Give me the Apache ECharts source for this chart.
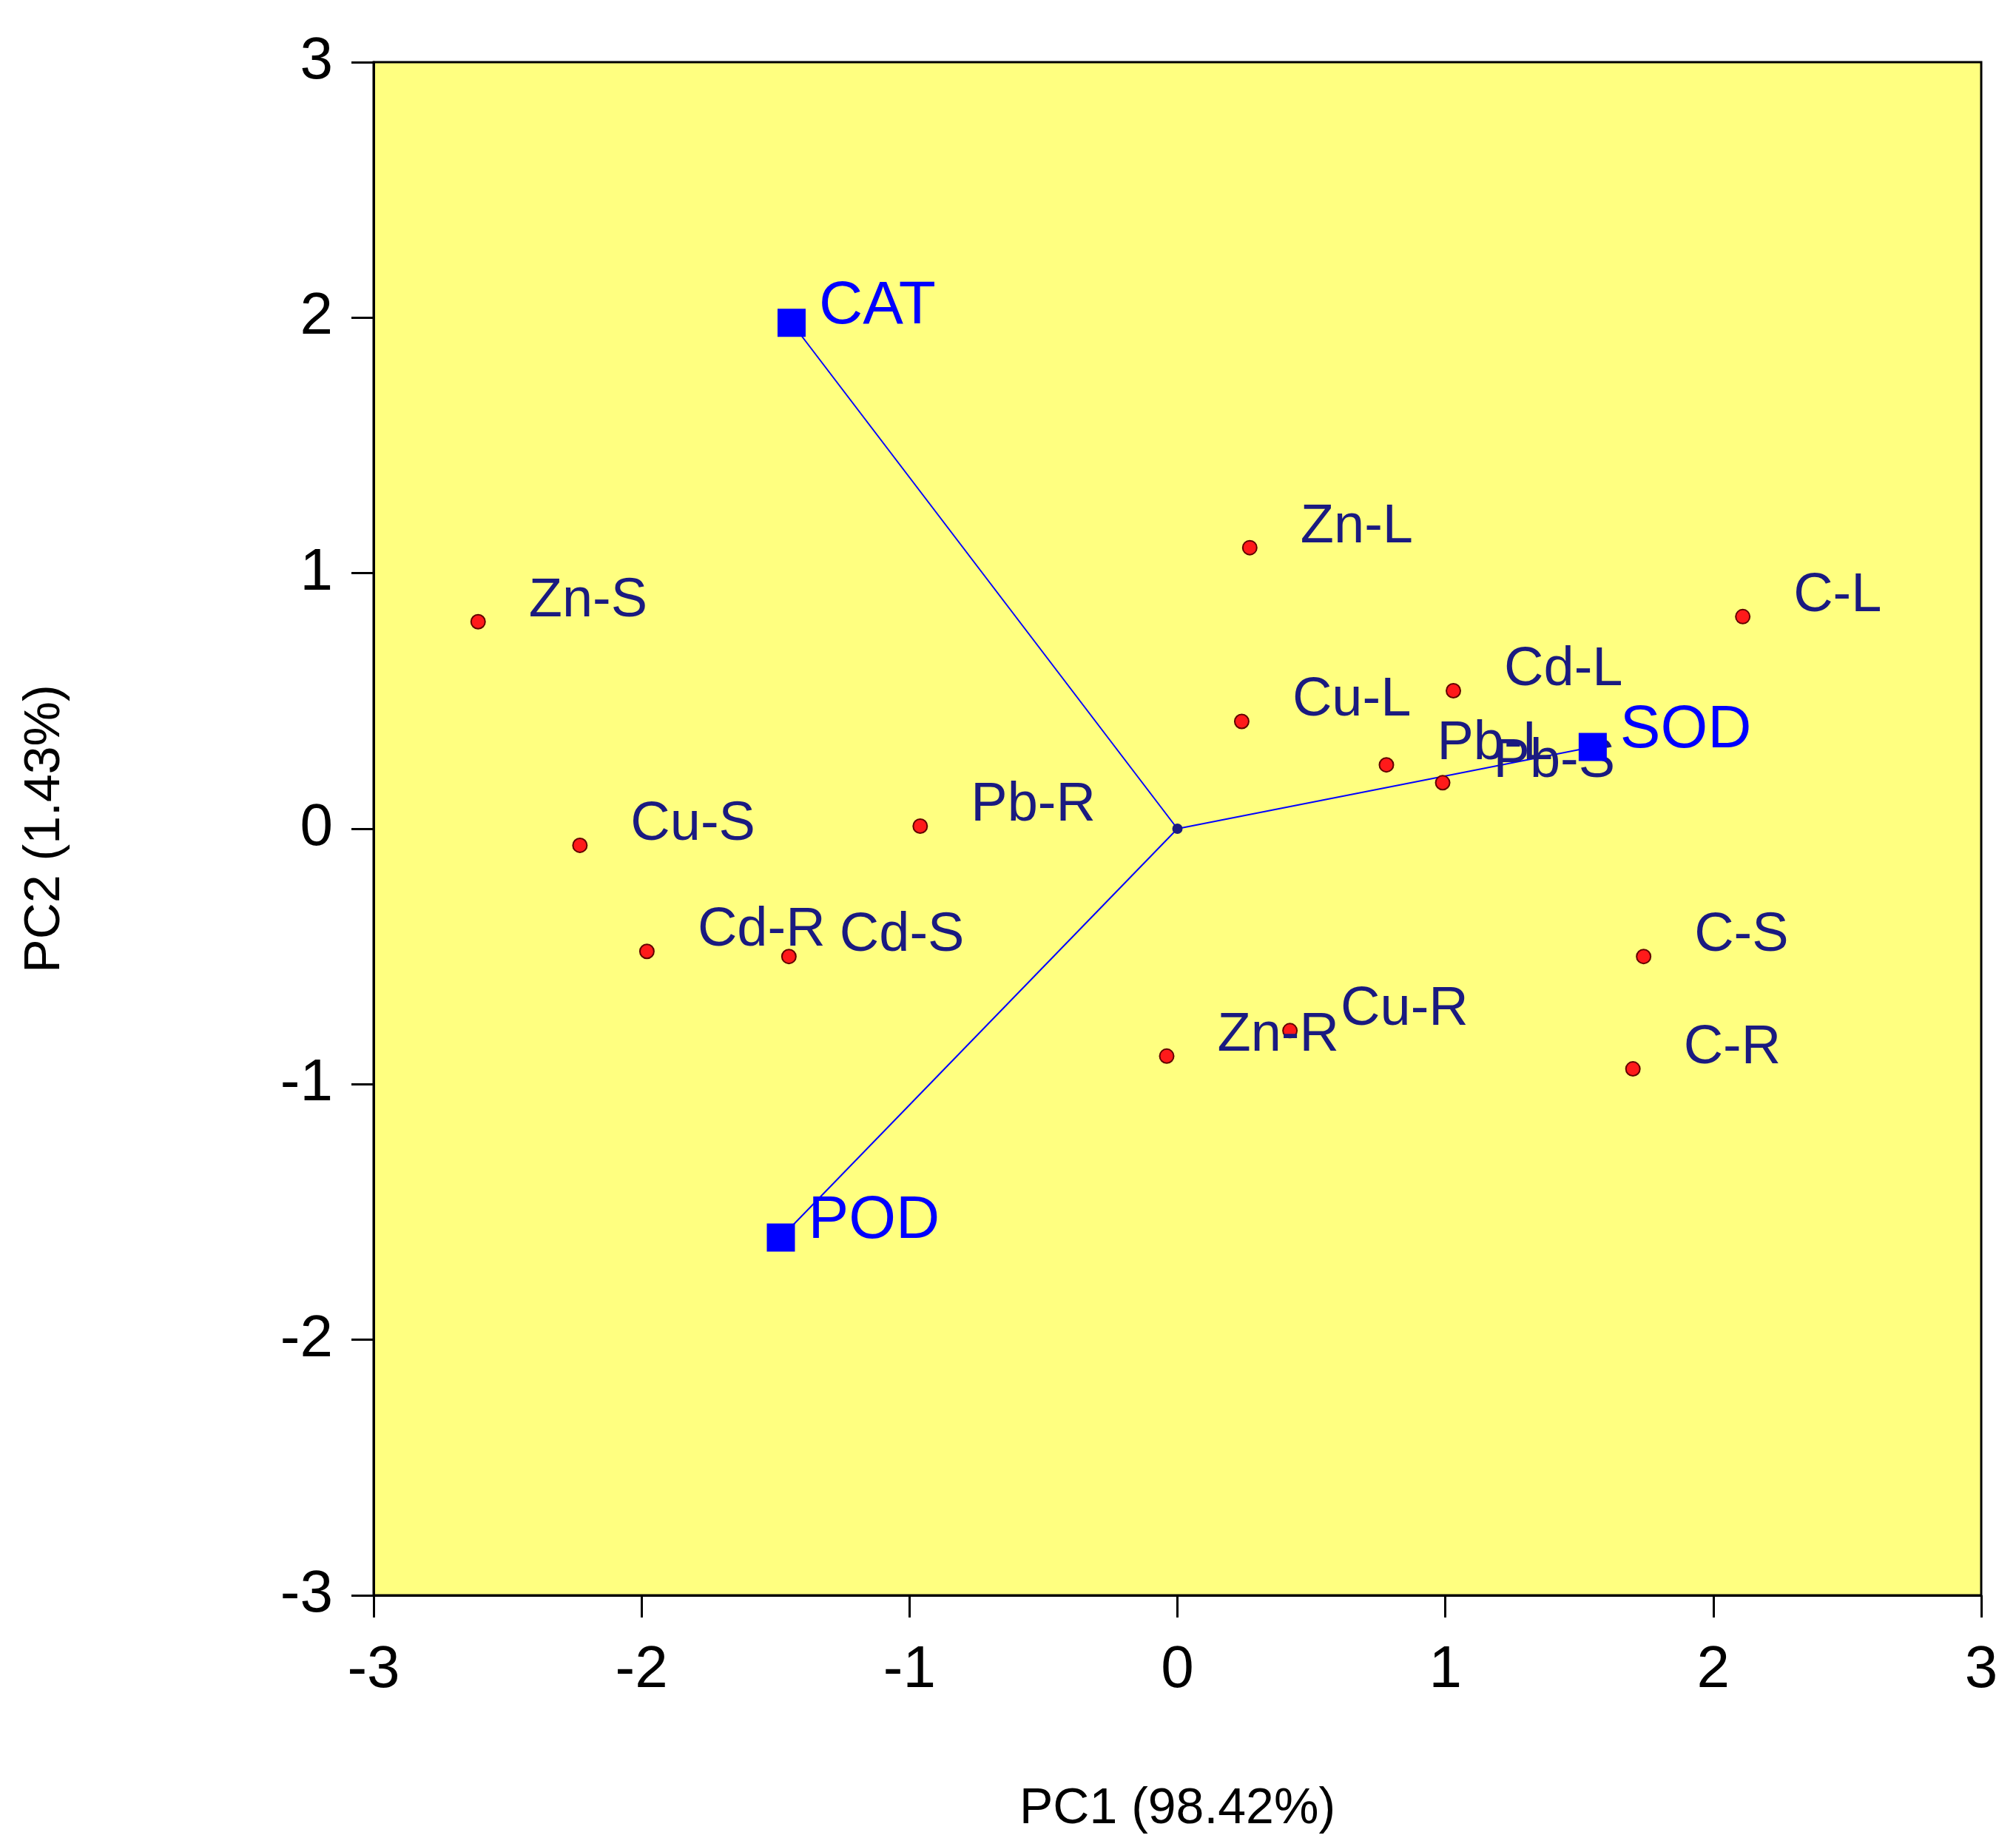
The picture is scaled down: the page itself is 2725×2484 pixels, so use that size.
<!DOCTYPE html>
<html>
<head>
<meta charset="UTF-8">
<title>PCA biplot</title>
<script src="https://cdn.jsdelivr.net/npm/echarts@6/dist/echarts.min.js"></script>
<style>
  html, body { margin: 0; padding: 0; background: #fff; }
  #chart { width: 2725px; height: 2484px; }
</style>
</head>
<body>
<div id="chart"></div>
<script>
// 样本得分
var sampleNames = ['Zn-S', 'Cu-S', 'Cd-R', 'Cd-S', 'Pb-R', 'Zn-L', 'Cu-L', 'Cd-L', 'Pb-L', 'Pb-S', 'C-L', 'C-S', 'C-R', 'Zn-R', 'Cu-R'];
var sampleX = [-2.61, -2.23, -1.98, -1.45, -0.96, 0.27, 0.24, 1.03, 0.78, 0.99, 2.11, 1.74, 1.70, -0.04, 0.42];
var sampleY = [0.81, -0.065, -0.48, -0.50, 0.01, 1.10, 0.42, 0.54, 0.25, 0.18, 0.83, -0.50, -0.94, -0.89, -0.79];
// 变量载荷
var vectorNames = ['CAT', 'SOD', 'POD'];
var vectorX = [-1.44, 1.55, -1.48];
var vectorY = [1.98, 0.32, -1.60];
var axisTicks = [-3, -2, -1, 0, 1, 2, 3];

var font = 'Liberation Sans, Arial, sans-serif';
var myChart = echarts.init(document.getElementById('chart'));

var series = [];
// 向量线
for (var i = 0; i < vectorNames.length; i++) {
  series.push({
    type: 'line',
    data: [[0, 0], [vectorX[i], vectorY[i]]],
    symbol: 'none',
    lineStyle: { color: '#0000ff', width: 2 },
    silent: true,
    z: 2
  });
}
series.push({
  type: 'scatter',
  data: sampleNames.map(function (n, i) { return { name: n, value: [sampleX[i], sampleY[i]] }; }),
  symbolSize: 19,
  itemStyle: { color: '#ff1a1a', borderColor: '#600000', borderWidth: 2, opacity: 1 },
  label: {
    show: true, position: 'right', distance: 58, offset: [0, -28],
    formatter: '{b}', color: '#1a1a80', fontSize: 74, fontFamily: font
  },
  z: 4
});
series.push({
  type: 'scatter',
  data: vectorNames.map(function (n, i) { return { name: n, value: [vectorX[i], vectorY[i]] }; }),
  symbol: 'rect',
  symbolSize: 38,
  itemStyle: { color: '#0000ff', opacity: 1 },
  label: {
    show: true, position: 'right', distance: 18, offset: [0, -22],
    formatter: '{b}', color: '#0000ff', fontSize: 82, fontFamily: font
  },
  z: 5
});
// 原点
series.push({
  type: 'scatter',
  data: [[0, 0]],
  symbolSize: 14,
  itemStyle: { color: '#1a1a80', opacity: 1 },
  z: 6
});

var axisCommon = {
  min: axisTicks[0], max: axisTicks[axisTicks.length - 1], interval: 1,
  splitLine: { show: false },
  axisLine: { show: true, onZero: false, lineStyle: { color: '#000', width: 3 } },
  axisTick: { show: true, inside: false, length: 30, lineStyle: { color: '#000', width: 3 } },
  axisLabel: { color: '#000', fontSize: 80, fontFamily: font },
  nameTextStyle: { color: '#000', fontSize: 68, fontFamily: font },
  nameLocation: 'middle'
};

var option = {
  backgroundColor: '#fff',
  animation: false,
  grid: {
    left: 505, right: 47, top: 84, bottom: 293,
    show: true, backgroundColor: '#ffff80', borderColor: '#000', borderWidth: 3
  },
  xAxis: Object.assign({}, axisCommon, {
    type: 'value', name: 'PC1 (98.42%)', nameGap: 255,
    axisLabel: Object.assign({}, axisCommon.axisLabel, { margin: 62 })
  }),
  yAxis: Object.assign({}, axisCommon, {
    type: 'value', name: 'PC2 (1.43%)', nameGap: 410,
    axisLabel: Object.assign({}, axisCommon.axisLabel, { margin: 55 })
  }),
  series: series
};
myChart.setOption(option);
</script>
</body>
</html>
